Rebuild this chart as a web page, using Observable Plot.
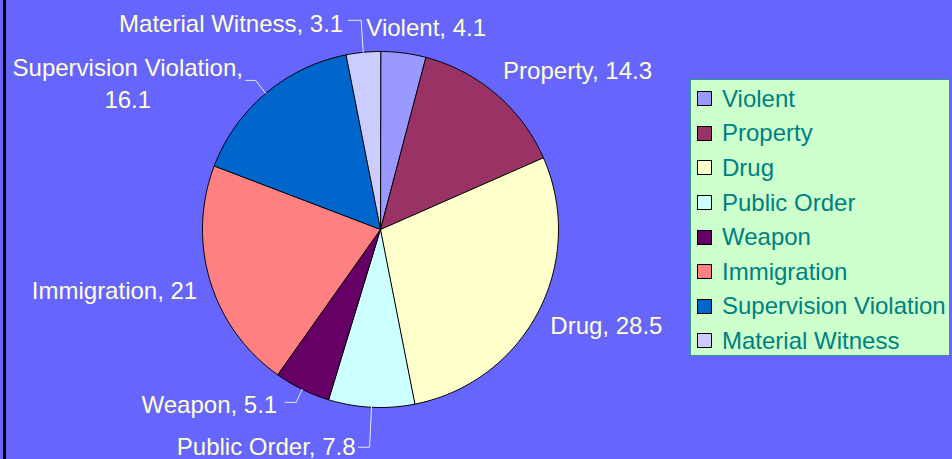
<!DOCTYPE html>
<html><head><meta charset="utf-8">
<script src="https://cdn.jsdelivr.net/npm/d3@7"></script>
<script src="https://cdn.jsdelivr.net/npm/@observablehq/plot@0.6"></script>
<style>
body{margin:0;background:#6666FF;}
#wrap{position:relative;width:952px;height:459px;background:#6666FF;overflow:hidden;font-family:"Liberation Sans",Arial,sans-serif;}
#wrap svg{position:absolute;left:0;top:0;}
#edge{position:absolute;left:3px;top:0;width:3px;height:459px;background:#000;}
#legend{position:absolute;left:690px;top:79px;width:260px;height:277px;background:#CCFFCC;border:1px solid #2E9A8E;box-sizing:border-box;}
.item{position:absolute;left:6px;height:24px;display:flex;align-items:center;color:#008080;font-size:24px;white-space:nowrap;}
.sw{width:13px;height:13px;border:1px solid #000;margin-right:10px;flex:none;}
</style></head><body><div id="wrap"><div id="edge"></div></div>
<script>
const categories = ["Violent","Property","Drug","Public Order","Weapon","Immigration","Supervision Violation","Material Witness"];
const values = [4.1,14.3,28.5,7.8,5.1,21,16.1,3.1];
const colors = ["#9999FF","#993366","#FFFFCC","#CCFFFF","#660066","#FF8080","#0066CC","#CCCCFF"];
const labelTexts = ["Violent, 4.1","Property, 14.3","Drug, 28.5","Public Order, 7.8","Weapon, 5.1","Immigration, 21","Supervision Violation,\n16.1","Material Witness, 3.1"];

// layout (pixels, relative to slice edge point at mid-angle)
const W = 952, H = 459, CX = 380, CY = 229, R = 178;
const labelLayout = [
  {dx: -37, dy: -27.5, anchor: "start"},
  {dx: 7, dy: -25, anchor: "start"},
  {dx: 12, dy: 12, anchor: "start"},
  {dx: -16, dy: 37.5, anchor: "end", start: [-13, 40], elbow: [-2, 40]},
  {dx: -25, dy: 13, anchor: "end", start: [-17, 13], elbow: [-6, 13]},
  {dx: -13, dy: 7.5, anchor: "end"},
  {dx: -138, dy: -12, anchor: "middle", start: [-20, -13], elbow: [-10, -13]},
  {dx: -20, dy: -30.5, anchor: "end", start: [-15, -32], elbow: [-2, -32]}
];

const arcs = d3.pie().sort(null).value(d => d)(values);
const px = 1 / R; // one pixel in data units
const polys = [];
arcs.forEach((a, i) => {
  polys.push({cat: categories[i], x: 0, y: 0});
  const n = Math.max(4, Math.ceil((a.endAngle - a.startAngle) * 180 / Math.PI));
  for (let k = 0; k <= n; k++) {
    const t = a.startAngle + (a.endAngle - a.startAngle) * k / n;
    polys.push({cat: categories[i], x: Math.sin(t), y: Math.cos(t)});
  }
});
const labels = arcs.map((a, i) => {
  const m = (a.startAngle + a.endAngle) / 2;
  const ex = Math.sin(m), ey = Math.cos(m);
  const L = labelLayout[i];
  return {text: labelTexts[i], x: ex + L.dx * px, y: ey - L.dy * px, anchor: L.anchor, ex, ey, L};
});
const leaders = [];
labels.forEach((l, i) => {
  if (!l.L.start) return;
  leaders.push({id: i, x: l.ex + l.L.start[0] * px, y: l.ey - l.L.start[1] * px});
  leaders.push({id: i, x: l.ex + l.L.elbow[0] * px, y: l.ey - l.L.elbow[1] * px});
  leaders.push({id: i, x: l.ex, y: l.ey});
});

const textOpts = {fill: "#FFFFCC", fontSize: 24, fontFamily: "Liberation Sans, Arial, sans-serif", lineHeight: 1.333};
const chart = Plot.plot({
  width: W, height: H, margin: 0,
  style: {background: "transparent", overflow: "visible"},
  x: {domain: [-CX / R, (W - CX) / R], range: [0, W], axis: null},
  y: {domain: [-(H - CY) / R, CY / R], range: [H, 0], axis: null},
  color: {domain: categories, range: colors},
  marks: [
    Plot.line(polys, {x: "x", y: "y", z: "cat", fill: "cat", stroke: "#000", strokeWidth: 1, curve: "linear-closed"}),
    Plot.line(leaders, {x: "x", y: "y", z: "id", stroke: "#E8E8E8", strokeWidth: 1}),
    Plot.text(labels.filter(d => d.anchor === "start"), {x: "x", y: "y", text: "text", textAnchor: "start", ...textOpts}),
    Plot.text(labels.filter(d => d.anchor === "end"), {x: "x", y: "y", text: "text", textAnchor: "end", ...textOpts}),
    Plot.text(labels.filter(d => d.anchor === "middle"), {x: "x", y: "y", text: "text", textAnchor: "middle", ...textOpts})
  ]
});
const wrap = document.getElementById("wrap");
wrap.appendChild(chart);

const leg = document.createElement("div");
leg.id = "legend";
categories.forEach((c, i) => {
  const it = document.createElement("div");
  it.className = "item";
  it.style.top = (6.7 + i * 34.6) + "px";
  const sw = document.createElement("div");
  sw.className = "sw";
  sw.style.background = colors[i];
  it.appendChild(sw);
  it.appendChild(document.createTextNode(c));
  leg.appendChild(it);
});
wrap.appendChild(leg);
</script></body></html>
